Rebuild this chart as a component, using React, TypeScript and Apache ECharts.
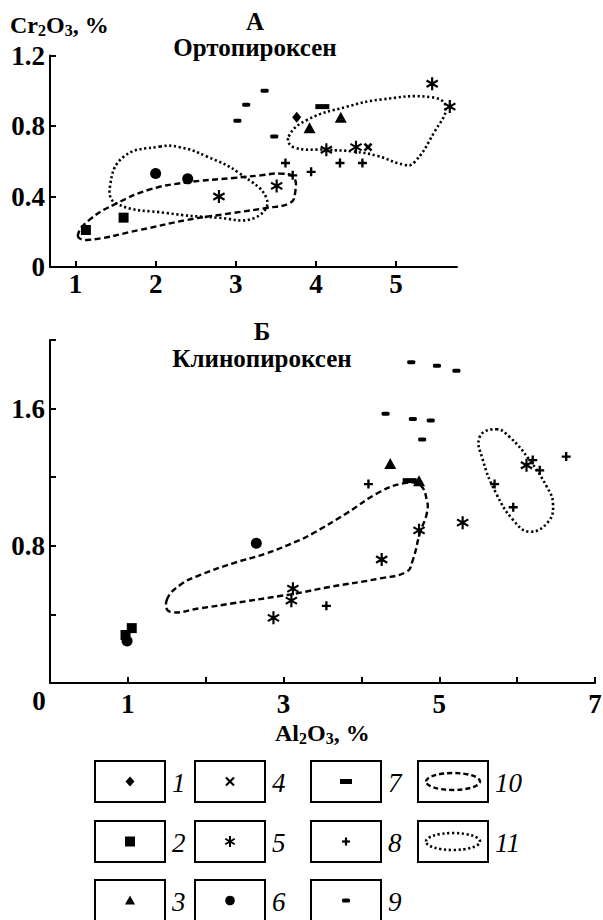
import React, { useEffect, useRef } from "react";
import * as echarts from "echarts";

// ---------- Panel А: Ортопироксен (Al2O3 %, Cr2O3 %) ----------
const A_t1 = [[3.76, 0.85]];
const A_t2 = [[1.13, 0.21], [1.6, 0.28]];
const A_t3 = [[3.92, 0.79], [4.31, 0.85]];
const A_t4 = [[4.65, 0.68]];
const A_t5 = [[2.79, 0.4], [3.51, 0.46], [4.13, 0.665], [4.5, 0.68], [5.45, 1.04], [5.67, 0.91]];
const A_t6 = [[2.0, 0.53], [2.4, 0.5]];
const A_t7 = [[4.08, 0.91]];
const A_t8 = [[3.62, 0.59], [3.71, 0.52], [3.94, 0.54], [4.3, 0.59], [4.58, 0.59]];
const A_t9 = [[3.02, 0.83], [3.13, 0.92], [3.36, 1.0], [3.48, 0.74]];
const A_field10 = [[1.03, 0.18], [1.14, 0.153], [1.8, 0.21], [2.39, 0.267], [2.97, 0.307], [3.38, 0.335], [3.68, 0.364], [3.74, 0.42], [3.72, 0.51], [3.55, 0.53], [3.31, 0.52], [2.97, 0.505], [2.39, 0.48], [1.93, 0.44], [1.51, 0.36], [1.18, 0.27]];
const A_field11a = [[2.05, 0.683], [2.3, 0.68], [2.64, 0.627], [3.05, 0.53], [3.39, 0.38], [3.22, 0.276], [2.77, 0.28], [2.14, 0.306], [1.51, 0.36], [1.43, 0.456], [1.6, 0.625]];
const A_field11b = [[3.66, 0.74], [3.89, 0.835], [4.39, 0.91], [4.81, 0.95], [5.43, 0.964], [5.62, 0.91], [5.47, 0.76], [5.22, 0.59], [5.1, 0.58], [4.77, 0.63], [4.47, 0.655], [4.14, 0.665], [3.72, 0.68]];
const A_xTicks = [1, 2, 3, 4, 5];

// ---------- Panel Б: Клинопироксен ----------
const B_t2 = [[1.05, 0.32], [0.97, 0.28]];
const B_t3 = [[4.37, 1.28], [4.74, 1.18]];
const B_t5 = [[2.87, 0.38], [3.12, 0.55], [3.1, 0.48], [4.26, 0.72], [4.74, 0.89], [5.3, 0.935], [6.12, 1.27]];
const B_t6 = [[2.65, 0.815], [0.99, 0.245]];
const B_t7 = [[4.62, 1.18]];
const B_t8 = [[3.55, 0.45], [4.09, 1.16], [5.71, 1.16], [5.95, 1.025], [6.2, 1.3], [6.29, 1.24], [6.63, 1.32]];
const B_t9 = [[4.64, 1.87], [4.97, 1.85], [5.22, 1.82], [4.31, 1.57], [4.66, 1.54], [4.89, 1.53], [4.78, 1.42]];
const B_field10 = [[1.5, 0.484], [1.67, 0.571], [1.93, 0.63], [2.35, 0.698], [2.78, 0.756], [3.21, 0.834], [3.38, 0.873], [3.81, 0.99], [4.24, 1.115], [4.54, 1.164], [4.75, 1.155], [4.84, 1.067], [4.84, 0.99], [4.75, 0.873], [4.66, 0.717], [4.58, 0.649], [4.24, 0.61], [3.59, 0.56], [3.17, 0.523], [2.95, 0.507], [2.35, 0.465], [1.93, 0.436], [1.54, 0.416]];
const B_field11 = [[5.73, 1.48], [5.9, 1.436], [6.16, 1.3], [6.38, 1.145], [6.46, 1.048], [6.4, 0.94], [6.16, 0.882], [5.95, 0.95], [5.73, 1.106], [5.56, 1.3], [5.52, 1.436]];
const B_xLabels = [1, 3, 5, 7];
const B_yLabels = [0.8, 1.6];

const legendLabels = ["1", "2", "3", "4", "5", "6", "7", "8", "9", "10", "11"];

const SERIF = "Liberation Serif";
const INK = "#000";

const ASTERISK =
  "path://M-1,-6L1,-6L1,6L-1,6Z M4.696,-3.866L5.696,-2.134L-4.696,3.866L-5.696,2.134Z M5.696,2.134L4.696,3.866L-5.696,-2.134L-4.696,-3.866Z";
const PLUS = "path://M-1.3,-5L1.3,-5L1.3,-1.3L5,-1.3L5,1.3L1.3,1.3L1.3,5L-1.3,5L-1.3,1.3L-5,1.3L-5,-1.3L-1.3,-1.3Z";

function sc(data: number[][], ax: number, symbol: string, size: any, rotate = 0) {
  return {
    type: "scatter",
    xAxisIndex: ax,
    yAxisIndex: ax,
    data,
    symbol,
    symbolSize: size,
    symbolRotate: rotate,
    symbolKeepAspect: true,
    itemStyle: { color: INK, opacity: 1 },
    silent: true,
    z: 3,
  };
}

function field(points: number[][], ax: number, dotted: boolean) {
  return {
    type: "custom",
    coordinateSystem: "cartesian2d",
    xAxisIndex: ax,
    yAxisIndex: ax,
    data: points,
    silent: true,
    z: 2,
    renderItem: (params: any, api: any) => {
      if (params.dataIndex !== 0) return null;
      const pts = points.map((p) => api.coord(p));
      return {
        type: "polygon",
        shape: { points: pts, smooth: 0.45 },
        style: {
          fill: "none",
          stroke: INK,
          lineWidth: dotted ? 2.6 : 2.4,
          lineDash: dotted ? [2.2, 2.6] : [6, 3.5],
        },
      };
    },
  };
}

function axisX(ax: number, min: number, max: number, ticks: number[] | null, labels: number[], margin: number) {
  const o: any = {
    type: "value",
    gridIndex: ax,
    min,
    max,
    axisLine: { show: true, onZero: false, lineStyle: { color: INK, width: 2 } },
    axisTick: { show: true, inside: true, length: 6, lineStyle: { color: INK, width: 2 } },
    axisLabel: {
      customValues: labels,
      color: INK,
      fontFamily: SERIF,
      fontWeight: "bold",
      fontSize: 27,
      margin,
    },
    splitLine: { show: false },
  };
  if (ticks) o.axisTick.customValues = ticks;
  else o.interval = 1;
  return o;
}

function axisY(ax: number, max: number, labels: number[] | null) {
  const o: any = {
    type: "value",
    gridIndex: ax,
    min: 0,
    max,
    interval: 0.4,
    axisLine: { show: true, onZero: false, lineStyle: { color: INK, width: 2 } },
    axisTick: { show: true, inside: true, length: 6, lineStyle: { color: INK, width: 2 } },
    axisLabel: {
      color: INK,
      fontFamily: SERIF,
      fontWeight: "bold",
      fontSize: 27,
      margin: 5,
      formatter: (v: number) => (Math.abs(v) < 1e-9 ? "0" : v.toFixed(1)),
    },
    splitLine: { show: false },
  };
  if (labels) o.axisLabel.customValues = labels;
  return o;
}

function txt(text: string, x: number, y: number, size: number, align = "center", italic = false, bold = true) {
  return {
    type: "text",
    x,
    y,
    silent: true,
    style: {
      text,
      fill: INK,
      fontFamily: SERIF,
      fontWeight: bold ? "bold" : "normal",
      fontStyle: italic ? "italic" : "normal",
      fontSize: size,
      align,
      verticalAlign: "middle",
    },
  };
}

function chemLabel(a: string, n1: string, b: string, n2: string, tail: string, x: number, y: number) {
  const base = { fontFamily: SERIF, fontWeight: "bold", fontSize: 24, fill: INK, lineHeight: 26, verticalAlign: "middle" };
  return {
    type: "text",
    x,
    y,
    silent: true,
    style: {
      text: `{a|${a}}{s|${n1}}{a|${b}}{s|${n2}}{a|${tail}}`,
      align: "left",
      verticalAlign: "middle",
      rich: {
        a: base,
        s: { ...base, fontSize: 16, verticalAlign: "bottom" },
      },
    },
  };
}

function legendGraphics() {
  const els: any[] = [];
  const colX = [95, 195, 311, 418];
  const rowY = [761, 821, 880];
  const W = 70;
  const H = 41;
  const stroke = { stroke: INK, lineWidth: 2, fill: "none" };
  for (let c = 0; c < 4; c++) {
    for (let r = 0; r < 3; r++) {
      if (c === 3 && r === 2) continue;
      const idx = c * 3 + r;
      const h = r === 2 ? 50 : H;
      els.push({ type: "rect", silent: true, shape: { x: colX[c], y: rowY[r], width: W, height: h }, style: { ...stroke } });
      els.push(txt(legendLabels[idx], colX[c] + W + 7, rowY[r] + 22, 27, "left", true, false));
    }
  }
  const cx = colX.map((x) => x + W / 2);
  const cy = rowY.map((y) => y + 20.5);
  const f = { fill: INK };
  els.push({ type: "polygon", silent: true, shape: { points: [[cx[0], cy[0] - 5], [cx[0] + 4.5, cy[0]], [cx[0], cy[0] + 5], [cx[0] - 4.5, cy[0]]] }, style: f });
  els.push({ type: "rect", silent: true, shape: { x: cx[0] - 5, y: cy[1] - 5, width: 10, height: 10 }, style: f });
  els.push({ type: "polygon", silent: true, shape: { points: [[cx[0], cy[2] - 5], [cx[0] + 5, cy[2] + 4], [cx[0] - 5, cy[2] + 4]] }, style: f });
  const ls = { stroke: INK, lineWidth: 2.2 };
  els.push({ type: "line", silent: true, shape: { x1: cx[1] - 4, y1: cy[0] - 4, x2: cx[1] + 4, y2: cy[0] + 4 }, style: ls });
  els.push({ type: "line", silent: true, shape: { x1: cx[1] - 4, y1: cy[0] + 4, x2: cx[1] + 4, y2: cy[0] - 4 }, style: ls });
  for (const ang of [0, 60, 120]) {
    const a = (ang * Math.PI) / 180;
    const dx = Math.sin(a) * 5.5;
    const dy = Math.cos(a) * 5.5;
    els.push({ type: "line", silent: true, shape: { x1: cx[1] - dx, y1: cy[1] - dy, x2: cx[1] + dx, y2: cy[1] + dy }, style: { stroke: INK, lineWidth: 2 } });
  }
  els.push({ type: "circle", silent: true, shape: { cx: cx[1], cy: cy[2], r: 4.8 }, style: f });
  els.push({ type: "rect", silent: true, shape: { x: cx[2] - 6, y: cy[0] - 2.5, width: 12, height: 5 }, style: f });
  els.push({ type: "line", silent: true, shape: { x1: cx[2] - 4, y1: cy[1], x2: cx[2] + 4, y2: cy[1] }, style: ls });
  els.push({ type: "line", silent: true, shape: { x1: cx[2], y1: cy[1] - 4, x2: cx[2], y2: cy[1] + 4 }, style: ls });
  els.push({ type: "rect", silent: true, shape: { x: cx[2] - 4, y: cy[2] - 2, width: 8, height: 4, r: 1.5 }, style: f });
  els.push({ type: "ellipse", silent: true, shape: { cx: cx[3], cy: cy[0], rx: 27, ry: 8.5 }, style: { stroke: INK, fill: "none", lineWidth: 2.4, lineDash: [5, 3] } });
  els.push({ type: "ellipse", silent: true, shape: { cx: cx[3], cy: cy[1], rx: 27, ry: 8.5 }, style: { stroke: INK, fill: "none", lineWidth: 2.6, lineDash: [2.2, 2.6] } });
  return els;
}

export default function App() {
  const ref = useRef<HTMLDivElement>(null);
  useEffect(() => {
    document.body.style.margin = "0";
    if (!ref.current) return;
    const chart = echarts.init(ref.current, undefined, { renderer: "svg" });
    const option: any = {
      animation: false,
      backgroundColor: "#fff",
      textStyle: { fontFamily: SERIF },
      grid: [
        { left: 50, top: 55.5, width: 407, height: 211.5, outerBoundsMode: "none" },
        { left: 50, top: 340, width: 545, height: 343, outerBoundsMode: "none" },
      ],
      xAxis: [axisX(0, 0.682, 5.76, A_xTicks, A_xTicks, 3), axisX(1, 0, 7, null, B_xLabels, 7)],
      yAxis: [axisY(0, 1.2, null), axisY(1, 2.0, B_yLabels)],
      series: [
        field(A_field10, 0, false),
        field(A_field11a, 0, true),
        field(A_field11b, 0, true),
        sc(A_t1, 0, "diamond", [9, 11]),
        sc(A_t2, 0, "rect", 10),
        sc(A_t3, 0, "triangle", [12, 11]),
        sc(A_t4, 0, PLUS, 10, 45),
        sc(A_t5, 0, ASTERISK, 13),
        sc(A_t6, 0, "circle", 11),
        sc(A_t7, 0, "rect", [14, 5]),
        sc(A_t8, 0, PLUS, 9),
        sc(A_t9, 0, "roundRect", [8, 4]),
        field(B_field10, 1, false),
        field(B_field11, 1, true),
        sc(B_t2, 1, "rect", 10),
        sc(B_t3, 1, "triangle", [12, 11]),
        sc(B_t5, 1, ASTERISK, 13),
        sc(B_t6, 1, "circle", 11),
        sc(B_t7, 1, "rect", [14, 5]),
        sc(B_t8, 1, PLUS, 9),
        sc(B_t9, 1, "roundRect", [8, 4]),
      ],
      graphic: [
        chemLabel("Cr", "2", "O", "3", ", %", 10, 25),
        txt("А", 255, 21, 25),
        txt("Ортопироксен", 255, 47, 25),
        txt("Б", 262, 331, 25),
        txt("Клинопироксен", 262, 358, 25),
        txt("0", 39, 701, 27),
        chemLabel("Al", "2", "O", "3", ", %", 275, 733),
        ...legendGraphics(),
      ],
    };
    chart.setOption(option);
    return () => chart.dispose();
  }, []);
  return <div ref={ref} style={{ width: 603, height: 920 }} />;
}
